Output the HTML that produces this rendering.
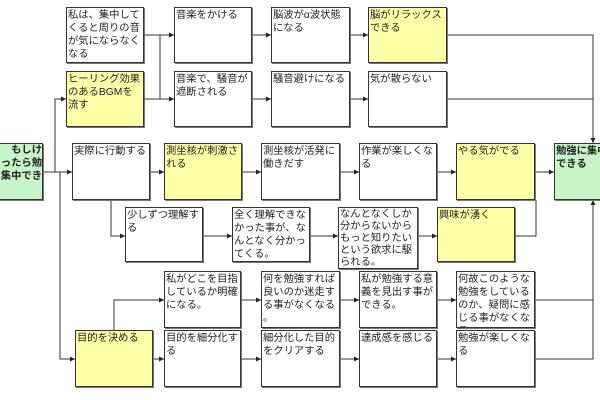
<!DOCTYPE html>
<html><head><meta charset="utf-8"><style>
body{margin:0;width:600px;height:400px;background:#fff;position:relative;overflow:hidden;font-family:"Liberation Sans","Noto Sans CJK JP",sans-serif;}
.b{position:absolute;box-sizing:border-box;border:1px solid #333;box-shadow:1px 1px 0 #777;background:#fff;font-size:10.3px;line-height:13px;padding:1px 1px;color:#222;overflow:hidden;line-break:anywhere;}
.y{background:#ffffa8;}
.g{background:#c8f5c8;font-weight:bold;}
svg{position:absolute;left:0;top:0;}
</style></head><body>
<svg width="600" height="400">
<defs><marker id="a" markerWidth="5" markerHeight="5" refX="5" refY="2.5" orient="auto" markerUnits="userSpaceOnUse"><path d="M0,0L5,2.5L0,5z" fill="#222"/></marker></defs>
<g stroke="#333" stroke-width="1" fill="none">
<path d="M43 172H72" marker-end="url(#a)"/>
<path d="M55 172V99H66" marker-end="url(#a)"/>
<path d="M60 172V359H75" marker-end="url(#a)"/>
<path d="M144 35H174" marker-end="url(#a)"/>
<path d="M160 35V99"/>
<path d="M144 99H174" marker-end="url(#a)"/>
<path d="M252 35H271" marker-end="url(#a)"/>
<path d="M252 99H271" marker-end="url(#a)"/>
<path d="M350 35H368" marker-end="url(#a)"/>
<path d="M350 99H368" marker-end="url(#a)"/>
<path d="M447 35H593V143" marker-end="url(#a)"/>
<path d="M447 99H593"/>
<path d="M150 172H164" marker-end="url(#a)"/>
<path d="M242 172H261" marker-end="url(#a)"/>
<path d="M340 172H359" marker-end="url(#a)"/>
<path d="M437 172H456" marker-end="url(#a)"/>
<path d="M535 172H554" marker-end="url(#a)"/>
<path d="M111 200V236H125" marker-end="url(#a)"/>
<path d="M203 236H232" marker-end="url(#a)"/>
<path d="M310 236H338" marker-end="url(#a)"/>
<path d="M418 236H437" marker-end="url(#a)"/>
<path d="M515 236H536V200"/>
<path d="M114 330V300H164" marker-end="url(#a)"/>
<path d="M153 359H164" marker-end="url(#a)"/>
<path d="M241 300H261" marker-end="url(#a)"/>
<path d="M241 359H261" marker-end="url(#a)"/>
<path d="M340 300H359" marker-end="url(#a)"/>
<path d="M340 359H359" marker-end="url(#a)"/>
<path d="M437 300H456" marker-end="url(#a)"/>
<path d="M437 359H456" marker-end="url(#a)"/>
<path d="M535 300H593"/>
<path d="M535 359H593V200" marker-end="url(#a)"/>
</g></svg>

<div class="b g" style="left:-40px;top:143px;width:83px;height:57px;text-align:right;padding-right:0;padding-top:0">もしけ<br>やったら勉<br>強に集中でき</div>

<div class="b" style="left:66px;top:7px;width:78px;height:56px">私は、集中してくると周りの音が気にならなくなる</div>
<div class="b y" style="left:66px;top:71px;width:78px;height:56px">ヒーリング効果のあるBGMを流す</div>
<div class="b" style="left:174px;top:7px;width:78px;height:56px">音楽をかける</div>
<div class="b" style="left:174px;top:71px;width:78px;height:56px">音楽で、騒音が遮断される</div>
<div class="b" style="left:271px;top:7px;width:79px;height:56px">脳波がα波状態になる</div>
<div class="b" style="left:271px;top:71px;width:79px;height:56px">騒音避けになる</div>
<div class="b y" style="left:368px;top:7px;width:79px;height:56px">脳がリラックスできる</div>
<div class="b" style="left:368px;top:71px;width:79px;height:56px">気が散らない</div>

<div class="b" style="left:72px;top:143px;width:78px;height:57px">実際に行動する</div>
<div class="b y" style="left:164px;top:143px;width:78px;height:57px">測坐核が刺激される</div>
<div class="b" style="left:261px;top:143px;width:79px;height:57px">測坐核が活発に働きだす</div>
<div class="b" style="left:359px;top:143px;width:78px;height:57px">作業が楽しくなる</div>
<div class="b y" style="left:456px;top:143px;width:79px;height:57px">やる気がでる</div>
<div class="b g" style="left:554px;top:143px;width:60px;height:57px">勉強に集中できる</div>

<div class="b" style="left:125px;top:207px;width:78px;height:55px">少しずつ理解する</div>
<div class="b" style="left:232px;top:207px;width:78px;height:55px">全く理解できなかった事が、なんとなく分かってくる。</div>
<div class="b" style="left:338px;top:207px;width:80px;height:62px;line-height:12px">なんとなくしか分からないからもっと知りたいという欲求に駆られる。</div>
<div class="b y" style="left:437px;top:207px;width:78px;height:55px">興味が湧く</div>

<div class="b" style="left:164px;top:271px;width:77px;height:57px">私がどこを目指しているか明確になる。</div>
<div class="b" style="left:261px;top:271px;width:79px;height:57px">何を勉強すれば良いのか迷走する事がなくなる。</div>
<div class="b" style="left:359px;top:271px;width:78px;height:57px">私が勉強する意義を見出す事ができる。</div>
<div class="b" style="left:456px;top:271px;width:79px;height:57px">何故このような勉強をしているのか、疑問に感じる事がなくなる。</div>

<div class="b y" style="left:75px;top:330px;width:78px;height:57px">目的を決める</div>
<div class="b" style="left:164px;top:330px;width:77px;height:57px">目的を細分化する</div>
<div class="b" style="left:261px;top:330px;width:79px;height:57px">細分化した目的をクリアする</div>
<div class="b" style="left:359px;top:330px;width:78px;height:57px">達成感を感じる</div>
<div class="b" style="left:456px;top:330px;width:79px;height:57px">勉強が楽しくなる</div>
</body></html>
